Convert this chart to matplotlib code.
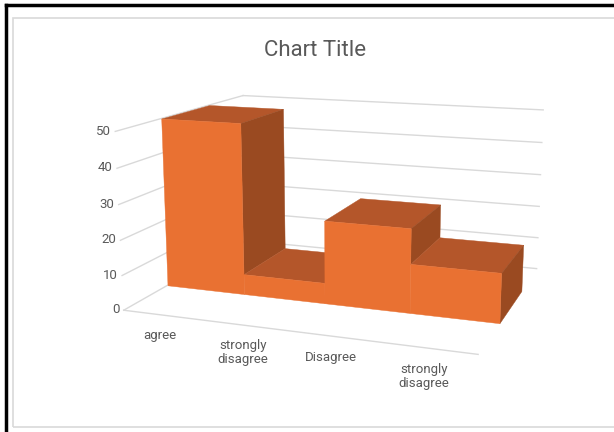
import matplotlib
matplotlib.use("Agg")
import matplotlib.pyplot as plt
from matplotlib.lines import Line2D
from matplotlib.patches import Rectangle
from mpl_toolkits.mplot3d.art3d import Poly3DCollection

categories = ["agree", "strongly\ndisagree", "Disagree", "strongly\ndisagree"]
values = [50, 6, 24, 14]
zticks = [0, 10, 20, 30, 40, 50]

FRONT = "#E97132"
TOP = "#B4562A"
SIDE = "#9A4A21"
GRID = "#D9D9D9"
TEXT = "#595959"

plt.rcParams["font.family"] = ["Roboto", "DejaVu Sans"]

W, H = 614, 432
fig = plt.figure(figsize=(W / 100, H / 100), dpi=100)

# screenshot frame: black edge top/left, light grey chart border
fig.add_artist(Line2D([6 / W, 6 / W], [0, 1 - 5 / H], color="black", lw=2.5, transform=fig.transFigure))
fig.add_artist(Line2D([6 / W, 1], [1 - 5 / H, 1 - 5 / H], color="black", lw=2.5, transform=fig.transFigure))
fig.add_artist(Rectangle((13 / W, 5 / H), 1.0, 1 - 23 / H, fill=False, ec="#D9D9D9", lw=1.2,
                         transform=fig.transFigure))

fig.text(0.513, 0.884, "Chart Title", ha="center", va="center", fontsize=16, color=TEXT)

# 3d axes are forced square, so make it big enough to not clip anything
side_h = W / H
ax = fig.add_axes([0.045, 0.505 - side_h / 2, 1.0, side_h], projection="3d")
ax.patch.set_alpha(0)
ax.set_proj_type("persp", focal_length=0.33)
ax.view_init(elev=13, azim=-70)
n = len(values)
depth = 1.0
y0, y1 = 0.31, 0.69
ax.set_xlim(0, n)
ax.set_ylim(0, depth)
ax.set_zlim(0, 50)
ax.set_box_aspect((4, 3.2, 2.0), zoom=0.75)
ax.set_axis_off()
ax.computed_zorder = False

# walls: grid lines on back and left wall, floor front edge
for t in zticks:
    ax.plot([0, n], [depth, depth], [t, t], color=GRID, lw=1, zorder=1)
    ax.plot([0, 0], [0, depth], [t, t], color=GRID, lw=1, zorder=1)
    ax.text(-0.05, 0, t, str(t), ha="right", va="center", fontsize=9.5, color=TEXT)
ax.plot([0, n], [0, 0], [0, 0], color=GRID, lw=1, zorder=1)

# bars, drawn left to right (right side is nearer to the viewer)
z = 5
for i, h in enumerate(values):
    nxt = values[i + 1] if i + 1 < n else 0
    front = [(i, y0, 0), (i + 1, y0, 0), (i + 1, y0, h), (i, y0, h)]
    top = [(i, y0, h), (i + 1, y0, h), (i + 1, y1, h), (i, y1, h)]
    polys = [(top, TOP)]
    if h > nxt:
        side = [(i + 1, y0, nxt), (i + 1, y1, nxt), (i + 1, y1, h), (i + 1, y0, h)]
        polys.append((side, SIDE))
    polys.append((front, FRONT))
    for verts, col in polys:
        pc = Poly3DCollection([verts], facecolors=col, edgecolors=col, linewidths=0.3)
        pc.set_zorder(z)
        z += 1
        ax.add_collection3d(pc)

for i, cat in enumerate(categories):
    ax.text(i + 0.45, 0.0, -4, cat, ha="center", va="top", fontsize=9.5, color=TEXT,
            linespacing=1.1, zorder=50)

fig.savefig("out.png", dpi=100)
